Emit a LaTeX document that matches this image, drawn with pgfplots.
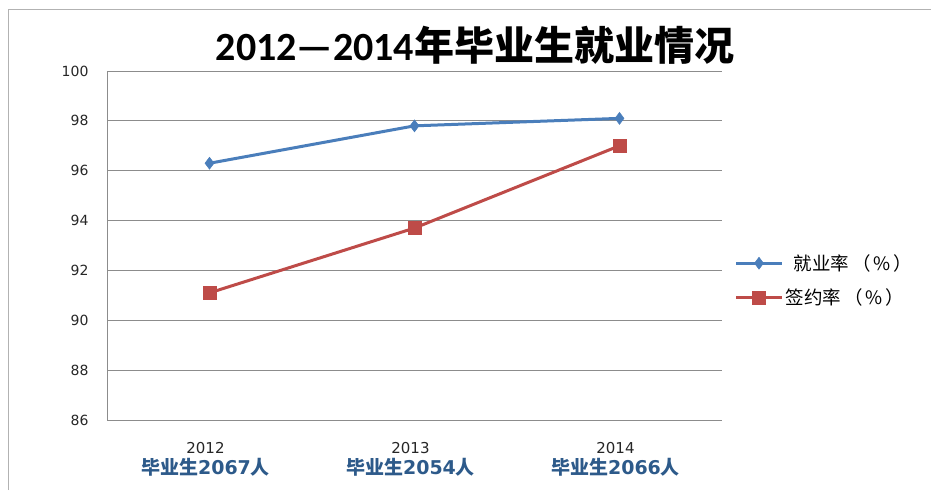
\documentclass[border=0pt]{standalone}
\usepackage{fontspec}
\setmainfont{DejaVu Sans}
\newfontfamily\cjk{Noto Sans CJK SC}
\newfontfamily\calib{Carlito}
\usepackage{pgfplots}
\pgfplotsset{compat=1.18}
\definecolor{jyblue}{HTML}{4A7EBB}
\definecolor{qyred}{HTML}{BE4B48}
\definecolor{lblblue}{HTML}{2D5A8A}
\definecolor{gridgray}{HTML}{8C8C8C}
\newcommand{\cat}[2]{{\fontsize{15}{16}\selectfont #1}\\[3pt]{\fontsize{19}{20}\selectfont\color{lblblue}\bfseries{\cjk\bfseries 毕业生}#2{\cjk\bfseries 人}}}
\begin{document}
\begin{tikzpicture}
\path[use as bounding box] (0pt,0pt) rectangle (931pt,490pt);
\draw[gray!60,line width=1pt] (8pt,0pt) -- (8pt,480pt) -- (931pt,480pt);
\node at (475pt,445pt) {\fontsize{40}{43}\selectfont\bfseries{\calib\bfseries 2012—2014}{\cjk\bfseries 年毕业生就业情况}};
\begin{axis}[
    at={(107pt,70pt)}, anchor=south west,
    width=615pt, height=349pt, scale only axis,
    xmin=-0.5, xmax=2.5, ymin=86, ymax=100,
    xtick={0,1,2},
    xticklabels={\cat{2012}{2067},\cat{2013}{2054},\cat{2014}{2066}},
    ytick={86,88,...,100},
    /pgf/number format/assume math mode=true,
    ymajorgrids, grid style={gridgray, line width=0.8pt},
    axis x line*=bottom, axis y line*=left,
    axis line style={gridgray, line width=0.8pt, -},
    major tick length=0pt,
    tick label style={font=\fontsize{14}{16}\selectfont, text=black!85},
    yticklabel style={xshift=-15pt},
    xticklabel style={align=center, yshift=-19pt, xshift=-4pt},
    legend style={at={(1.02,0.40)}, anchor=west, draw=none, fill=none,
        font=\fontsize{18.5}{20}\selectfont, row sep=13pt, inner sep=0pt},
    legend cell align=left,
    legend image code/.code={\draw[#1, mark repeat=2, mark phase=2] plot coordinates {(0pt,0pt) (23pt,0pt) (46pt,0pt)};},
]
\addplot[jyblue, line width=3pt, mark=diamond*, mark size=6pt, mark options={solid, line width=0.5pt}]
    coordinates {(0,96.3) (1,97.8) (2,98.1)};
\addlegendentry{\hspace{8pt}{\cjk 就业率\,（\,\%\,）}}
\addplot[qyred, line width=3pt, mark=square*, mark size=6.5pt, mark options={solid, line width=0.5pt}]
    coordinates {(0,91.1) (1,93.7) (2,97.0)};
\addlegendentry{{\cjk 签约率\,（\,\%\,）}}
\end{axis}
\end{tikzpicture}
\end{document}
